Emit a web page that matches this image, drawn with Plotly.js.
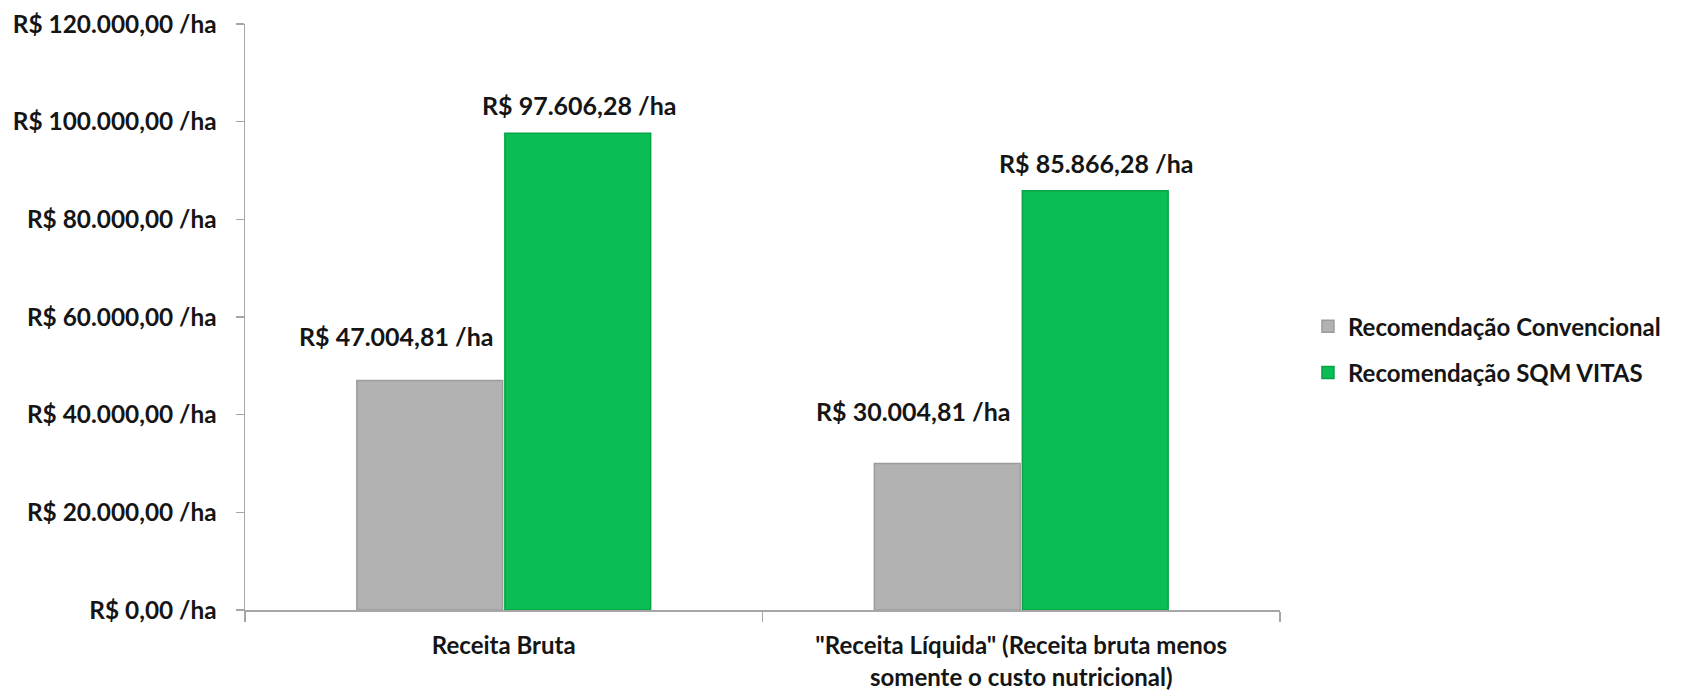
<!DOCTYPE html>
<html>
<head>
<meta charset="utf-8">
<script src="https://cdn.plot.ly/plotly-3.0.1.min.js"></script>
<style>
  html, body { margin: 0; padding: 0; background: #ffffff; }
  #chart { width: 1686px; height: 692px; }
</style>
</head>
<body>
<div id="chart"></div>
<script>
// ---- data ----
const categories = ["Receita Bruta", "\"Receita Líquida\" (Receita bruta menos<br>somente o custo nutricional)"];
const seriesNames = ["Recomendação Convencional", "Recomendação SQM VITAS"];
const convencional = [47004.81, 30004.81];
const sqmVitas = [97606.28, 85866.28];
const yTickValues = [0, 20000, 40000, 60000, 80000, 100000, 120000];
const yTickLabels = ["R$ 0,00 /ha", "R$ 20.000,00 /ha", "R$ 40.000,00 /ha", "R$ 60.000,00 /ha",
                     "R$ 80.000,00 /ha", "R$ 100.000,00 /ha", "R$ 120.000,00 /ha"];

function brl(v) {
  const parts = v.toFixed(2).split(".");
  const intPart = parts[0].replace(/\B(?=(\d{3})+(?!\d))/g, ".");
  return "R$ " + intPart + "," + parts[1] + " /ha";
}

const FONT = "Lato, 'Open Sans', sans-serif";
const TXT = "#151515";

const traces = [
  {
    type: "bar", name: seriesNames[0], x: categories, y: convencional,
    legendgroup: "a",
    marker: { color: "#b2b2b2", line: { color: "#9c9c9c", width: 1.5 } },
    hoverinfo: "none"
  },
  {
    type: "bar", name: seriesNames[1], x: categories, y: sqmVitas,
    legendgroup: "b",
    marker: { color: "#0abd55", line: { color: "#06a347", width: 1.5 } },
    hoverinfo: "none"
  }
];

const annotations = [];
categories.forEach((c, i) => {
  annotations.push({
    x: c, y: convencional[i], xref: "x", yref: "y", text: "<b>" + brl(convencional[i]) + "</b>",
    showarrow: false, xshift: -108, yshift: (i === 0 ? 44 : 52), yanchor: "middle",
    font: { family: FONT, size: 25, color: TXT }
  });
  annotations.push({
    x: c, y: sqmVitas[i], xref: "x", yref: "y", text: "<b>" + brl(sqmVitas[i]) + "</b>",
    showarrow: false, xshift: 75, yshift: 28, yanchor: "middle",
    font: { family: FONT, size: 25, color: TXT }
  });
});

const layout = {
  width: 1686, height: 692,
  margin: { l: 245, r: 406, t: 24, b: 82, pad: 0 },
  paper_bgcolor: "#ffffff", plot_bgcolor: "#ffffff",
  barmode: "group", bargap: 0.428, bargroupgap: 0.015,
  showlegend: true,
  legend: {
    x: 1.027, xanchor: "left", y: 0.522, yanchor: "top",
    traceorder: "grouped", tracegroupgap: 12,
    font: { family: FONT, size: 24, color: TXT, weight: "bold" },
    bgcolor: "rgba(0,0,0,0)"
  },
  xaxis: {
    type: "category",
    showgrid: false, zeroline: false,
    showline: true, linecolor: "#a6a6a6", linewidth: 1.5,
    ticks: "outside", tickson: "boundaries", ticklen: 10, tickcolor: "#a6a6a6", tickwidth: 1.5,
    ticklabelstandoff: 14,
    tickfont: { family: FONT, size: 24, color: TXT, weight: "bold" },
    fixedrange: true
  },
  yaxis: {
    range: [0, 120000],
    tickvals: yTickValues, ticktext: yTickLabels,
    showgrid: false, zeroline: false,
    showline: true, linecolor: "#a6a6a6", linewidth: 1.5,
    ticks: "outside", ticklen: 8, tickcolor: "#a6a6a6", tickwidth: 1.5,
    ticklabelstandoff: 14,
    tickfont: { family: FONT, size: 24.4, color: TXT, weight: "bold" },
    fixedrange: true
  },
  annotations: annotations,
  font: { family: FONT, color: TXT }
};

Plotly.newPlot("chart", traces, layout, { displayModeBar: false, staticPlot: true });
</script>
</body>
</html>
